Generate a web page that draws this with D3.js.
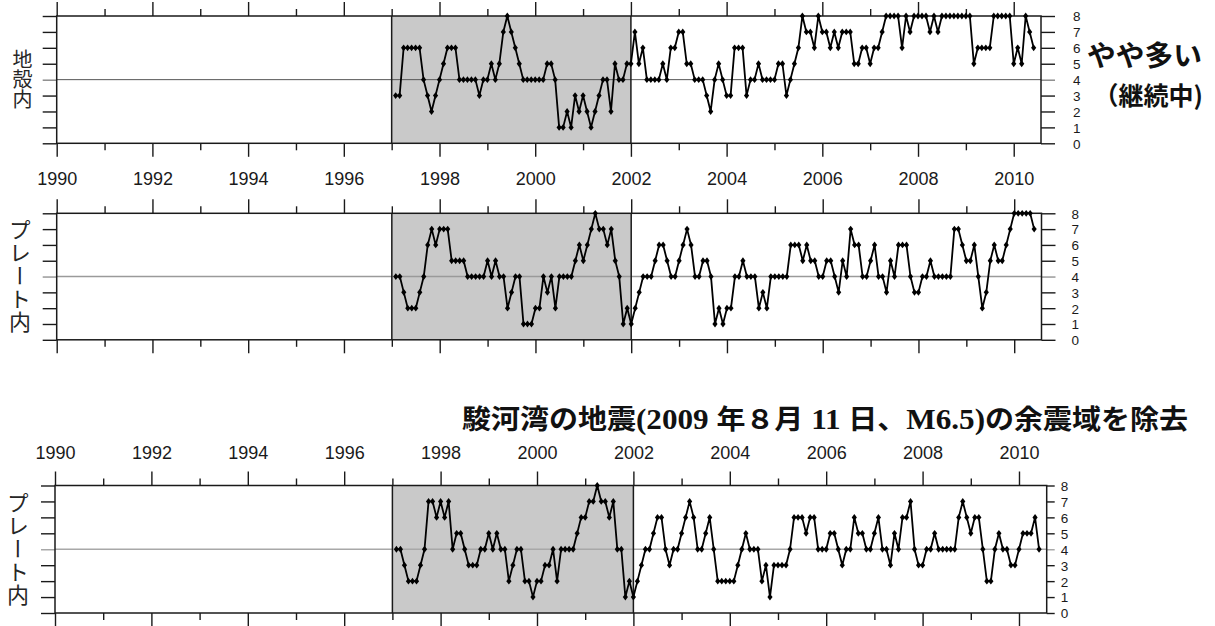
<!DOCTYPE html>
<html><head><meta charset="utf-8">
<script src="https://cdn.jsdelivr.net/npm/d3@7"></script>
<style>body{margin:0;background:#fff}svg{display:block}</style>
</head><body>
<svg id="c" width="1215" height="626"></svg>
<script>
// ---------- data ----------
const majorYears = [1990,1992,1994,1996,1998,2000,2002,2004,2006,2008,2010];
const minorYears = [1991,1993,1995,1997,1999,2001,2003,2005,2007,2009];
const yTicks = [0,1,2,3,4,5,6,7,8];
const firstMonth = {year:1997, month:1};   // first value = end of January 1997, monthly
const shadeFrom = 1997, shadeTo = 2002;
const refLevel = 4;

const crustal = [
 3,3,6,6,6,6,6,4,3,2, 3,4,5,6,6,6,4,4,4,4, 4,3,4,4,5,4,5,7,8,7, 6,5,4,4,4,4,4,4,5,5,
 4,1,1,2,1,3,2,3,2,1, 2,3,4,4,2,5,4,4,5,5, 7,5,6,4,4,4,4,5,4,6, 6,7,7,5,5,4,4,4,3,2,
 4,5,4,3,3,6,6,6,3,4, 4,5,4,4,4,4,5,5,3,4, 5,6,8,7,7,6,8,7,7,6, 7,6,7,7,7,5,5,6,6,5,
 6,6,7,8,8,8,8,6,8,7, 8,8,8,8,7,8,7,8,8,8, 8,8,8,8,8,5,6,6,6,6, 8,8,8,8,8,5,6,5,8,7,6];
const plate = [
 4,4,3,2,2,2,3,4,6,7, 6,7,7,7,5,5,5,5,4,4, 4,4,4,5,4,5,4,4,2,3, 4,4,1,1,1,2,2,4,3,4,
 2,4,4,4,4,5,6,5,6,7, 8,7,7,6,7,5,4,1,2,1, 2,3,4,4,4,5,6,6,5,4, 4,5,6,7,6,4,4,5,5,4,
 1,2,1,2,2,4,4,5,4,4, 4,2,3,2,4,4,4,4,4,6, 6,6,5,6,5,5,4,4,5,5, 4,3,5,4,7,6,6,4,4,5,
 6,4,4,3,5,4,6,6,6,4, 3,3,4,4,5,4,4,4,4,4, 7,7,6,5,5,6,4,2,3,5, 6,5,5,6,7,8,8,8,8,8,7];
const plateExcl = [
 4,4,3,2,2,2,3,4,7,7, 6,7,6,7,4,5,5,4,3,3, 3,4,4,5,4,5,4,4,2,3, 4,4,2,2,1,2,2,3,3,4,
 2,4,4,4,4,5,6,6,7,7, 8,7,7,6,7,4,4,1,2,1, 2,3,4,4,5,6,6,4,3,4, 4,5,6,7,6,4,4,5,6,4,
 2,2,2,2,2,3,4,5,4,4, 4,2,3,1,3,3,3,3,4,6, 6,6,5,6,6,4,4,4,5,5, 4,3,4,4,6,5,5,4,4,5,
 6,4,4,3,5,4,6,6,7,4, 3,3,4,4,5,4,4,4,4,4, 6,7,6,5,6,6,4,2,2,4, 5,4,4,3,3,4,5,5,5,6,4];

const panelLabels = ["地殻内", "プレート内", "プレート内"];
const noteMain = "やや多い";
const noteSub = "（継続中)";
const titleParts = [
 {t:"駿河湾の地震", k:"cjk"}, {t:"(2009 ", k:"serif"}, {t:"年８月", k:"cjk"},
 {t:" 11 ", k:"serif"}, {t:"日、", k:"cjk"}, {t:"M6.5)", k:"serif"}, {t:"の余震域を除去", k:"cjk"}];

// ---------- layout ----------
const CJK = "'Noto Sans CJK JP','Noto Sans CJK SC',sans-serif";
const SANS = "'Liberation Sans',Arial,sans-serif";
const SERIF = "'Liberation Serif','Times New Roman',serif";
const INK = "#1a1a1a";

const svg = d3.select("#c");

const timeOf = i => firstMonth.year + (firstMonth.month + i) / 12;   // end of each month

const panels = [
 {values: crustal, x0:56.7, x1:1041, xEnd:2010.57, top:16, bottom:143.3,
  label:panelLabels[0], labelX:22.5, labelSize:20, labelGap:0,
  grid:"#555", gridW:1, rTick:14, rPad:18, xLab:"bottom"},
 {values: plate, x0:56.7, x1:1041.5, xEnd:2010.57, top:213.3, bottom:339.8,
  label:panelLabels[1], labelX:20, labelSize:22, labelGap:1,
  grid:"#9a9a9a", gridW:1.5, rTick:14, rPad:16, xLab:null},
 {values: plateExcl, x0:55, x1:1046.7, xEnd:2010.575, top:485.5, bottom:613,
  label:panelLabels[2], labelX:18, labelSize:22, labelGap:1,
  grid:"#a8a8a8", gridW:1.5, rTick:8, rPad:6, xLab:"top"}
];

function styleAxis(g, w){
  g.select(".domain").remove();
  g.selectAll(".tick line").attr("stroke", INK).attr("stroke-width", w || 1.4);
  g.selectAll(".tick text").attr("fill", INK);
}

panels.forEach(p => {
  const x = d3.scaleLinear().domain([1990, p.xEnd]).range([p.x0, p.x1]);
  const y = d3.scaleLinear().domain([0, 8]).range([p.bottom, p.top]);
  const g = svg.append("g");

  // shaded period
  g.append("rect").attr("x", x(shadeFrom)).attr("y", p.top)
    .attr("width", x(shadeTo) - x(shadeFrom)).attr("height", p.bottom - p.top)
    .attr("fill", "#c9c9c9");

  // y axes
  const yl = g.append("g").attr("transform", `translate(${p.x0},0)`)
    .call(d3.axisLeft(y).tickValues(yTicks).tickSize(14).tickSizeOuter(0).tickFormat(""));
  styleAxis(yl);
  const yr = g.append("g").attr("transform", `translate(${p.x1},0)`)
    .call(d3.axisRight(y).tickValues(yTicks).tickSize(p.rTick).tickSizeOuter(0).tickPadding(p.rPad).tickFormat(d3.format("d")));
  styleAxis(yr);
  yr.selectAll(".tick text").attr("font-family", SANS).attr("font-size", 13.5).attr("dy", "0.36em");
  [yl, yr].forEach(a => a.selectAll(".tick").filter(d => d === refLevel).select("line")
     .attr("stroke", p.grid).attr("stroke-width", p.gridW));

  // reference line at level 4
  g.append("line").attr("x1", p.x0).attr("x2", p.x1).attr("y1", y(refLevel)).attr("y2", y(refLevel))
    .attr("stroke", p.grid).attr("stroke-width", p.gridW);

  // x axes (top & bottom, major & minor)
  const mk = (axisFn, ty, vals, size, labels, pad) => {
    const a = axisFn(x).tickValues(vals).tickSize(size).tickSizeOuter(0)
       .tickFormat(labels ? d3.format("d") : "").tickPadding(pad || 3);
    const ag = g.append("g").attr("transform", `translate(0,${ty})`).call(a);
    styleAxis(ag);
    ag.selectAll(".tick text").attr("font-family", SANS).attr("font-size", 18);
    return ag;
  };
  mk(d3.axisTop, p.top, majorYears, 14, p.xLab === "top", 13);
  mk(d3.axisTop, p.top, minorYears, 7, false);
  mk(d3.axisBottom, p.bottom, majorYears, 13.5, p.xLab === "bottom", 15);
  mk(d3.axisBottom, p.bottom, minorYears, 7, false);

  // frame + period borders
  g.append("rect").attr("x", p.x0).attr("y", p.top).attr("width", p.x1 - p.x0)
    .attr("height", p.bottom - p.top).attr("fill", "none").attr("stroke", INK).attr("stroke-width", 1.5);
  [shadeFrom, shadeTo].forEach(t => g.append("line").attr("x1", x(t)).attr("x2", x(t))
    .attr("y1", p.top).attr("y2", p.bottom).attr("stroke", INK).attr("stroke-width", 1.5));

  // series
  const pts = p.values.map((v, i) => [timeOf(i), v]);
  g.append("path").datum(pts)
    .attr("d", d3.line().x(d => x(d[0])).y(d => y(d[1])))
    .attr("fill", "none").attr("stroke", "#000").attr("stroke-width", 1.8).attr("stroke-linejoin", "round");
  g.append("g").selectAll("path").data(pts).join("path")
    .attr("transform", d => `translate(${x(d[0])},${y(d[1])})`)
    .attr("d", "M0,-3.4L2.6,0L0,3.4L-2.6,0Z").attr("fill", "#000");

  // vertical label (single vertical-writing text)
  g.append("text").attr("x", p.labelX).attr("y", (p.top + p.bottom) / 2)
    .attr("text-anchor", "middle")
    .style("writing-mode", "vertical-rl").style("text-orientation", "upright")
    .attr("letter-spacing", p.labelGap)
    .attr("font-family", CJK).attr("font-size", p.labelSize).attr("fill", "#262626").text(p.label);
});

// annotations
svg.append("text").attr("x", 1087).attr("y", 66).attr("font-family", CJK).attr("font-weight", 700)
  .attr("font-size", 28).attr("fill", "#111").attr("textLength", 115).attr("lengthAdjust", "spacingAndGlyphs")
  .text(noteMain);
svg.append("text").attr("x", 1203).attr("y", 105).attr("text-anchor", "end").attr("font-family", CJK)
  .attr("font-weight", 700).attr("font-size", 25).attr("fill", "#111").text(noteSub);

// title for third panel
const tt = svg.append("text").attr("x", 462).attr("y", 429).attr("font-weight", 700)
  .attr("font-size", 29).attr("fill", "#111")
  .attr("textLength", 726).attr("lengthAdjust", "spacingAndGlyphs");
titleParts.forEach(d => tt.append("tspan").attr("font-family", d.k === "cjk" ? CJK : SERIF)
  .attr("font-size", d.k === "cjk" ? 27 : 29).text(d.t));
</script>
</body></html>
